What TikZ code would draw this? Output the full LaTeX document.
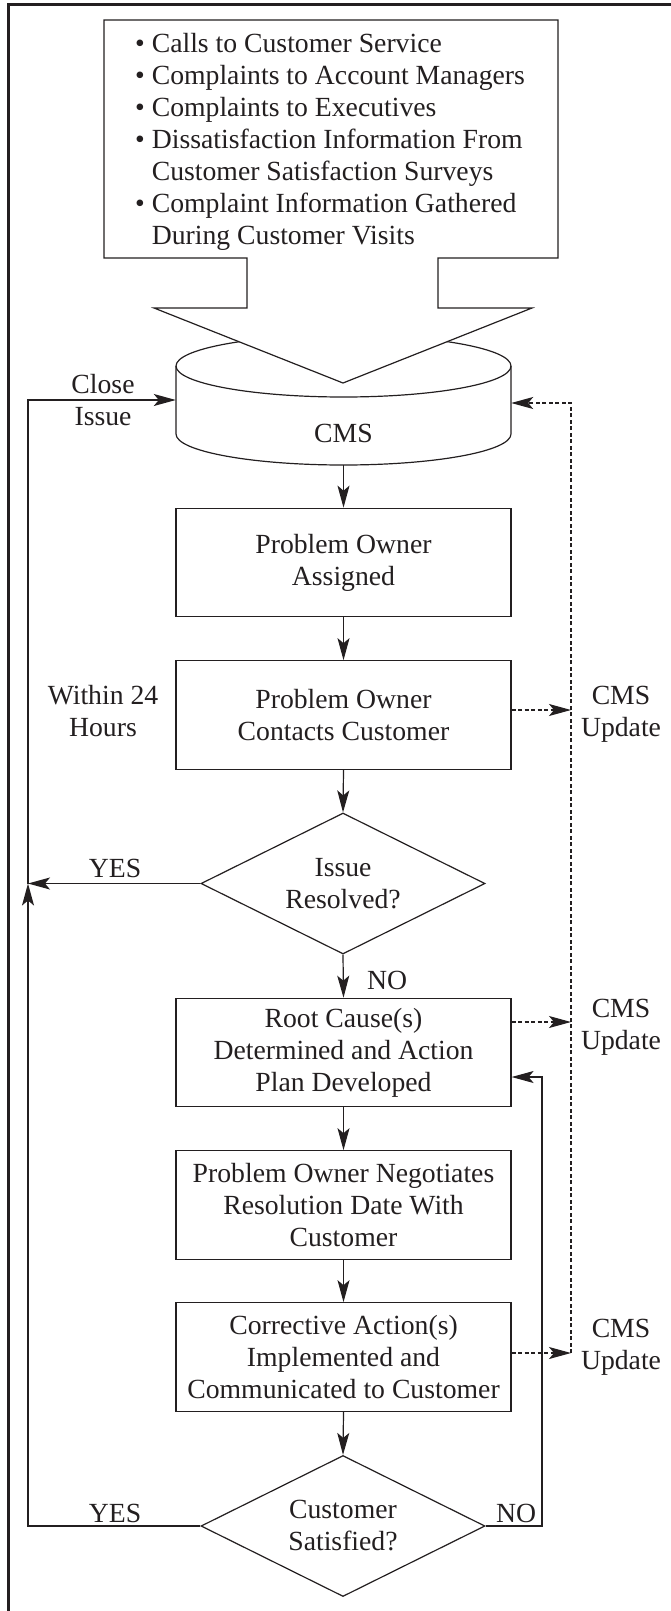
\documentclass[tikz,border=0pt]{standalone}
\usepackage{fontspec}
\setmainfont{Liberation Serif}
\usetikzlibrary{shapes.geometric,arrows.meta,calc}
\definecolor{ink}{RGB}{35,31,32}
\begin{document}
\begin{tikzpicture}[x=1pt,y=-1pt,
  every node/.style={font=\fontsize{27.7}{32}\selectfont, text=ink},
  stepbox/.style={draw=ink, line width=1.2pt, minimum width=335pt, minimum height=108.5pt, inner sep=0pt, align=center},
  decision/.style={diamond, draw=ink, line width=1.2pt, minimum width=284pt, minimum height=141pt, inner sep=0pt, aspect=2, align=center},
  tip/.style={-{Stealth[length=22pt,width=12pt,inset=5pt]}},
  flow/.style={draw=ink, line width=1.2pt, tip},
  update/.style={draw=ink, line width=1.2pt, dash pattern=on 4pt off 2.5pt},
  lbl/.style={align=center, inner sep=0pt},
]
\useasboundingbox (0,0) rectangle (670,1611);

% page frame (left and top edges)
\draw[ink, line width=2.7pt, line join=miter] (8.5,1615) -- (8.5,4.6) -- (675,4.6);

% CMS database cylinder
\draw[ink, line width=1.2pt] (176,366) -- (176,434)
  arc[start angle=180, end angle=360, x radius=167.5pt, y radius=31pt] -- (511,366);
\draw[ink, line width=1.2pt] (343.5,366) ellipse[x radius=167.5pt, y radius=31pt];
\node[minimum width=335pt, minimum height=130pt, inner sep=0pt] (cms) at (343.5,400) {};
\node[lbl] (cmslabel) at (343.5,433) {CMS};

% input sources box with its funnel arrow into the database
\draw[ink, fill=white, line width=1.2pt, line join=miter]
  (104,20) -- (558,20) -- (558,258) -- (438,258) -- (438,308) -- (532,308)
  -- (343,383) -- (154,308) -- (247,308) -- (247,258) -- (104,258) -- cycle;
\node[anchor=north west, align=left, inner sep=0pt] (sources) at (135,33.3)
  {\textbullet\ Calls to Customer Service\\
   \textbullet\ Complaints to Account Managers\\
   \textbullet\ Complaints to Executives\\
   \textbullet\ Dissatisfaction Information From\\
   \hphantom{\textbullet\ }Customer Satisfaction Surveys\\
   \textbullet\ Complaint Information Gathered\\
   \hphantom{\textbullet\ }During Customer Visits};

% process steps
\node[stepbox] (box1) at (343.5,562.5) {Problem Owner\\Assigned};
\node[stepbox] (box2) at (343.5,715) {Problem Owner\\Contacts Customer};
\node[decision] (d1) at (343,883.5) {Issue\\Resolved?};
\node[stepbox] (box3) at (343.5,1052.5) {Root Cause(s)\\Determined and Action\\Plan Developed};
\node[stepbox] (box4) at (343.5,1205) {Problem Owner Negotiates\\Resolution Date With\\Customer};
\node[stepbox] (box5) at (343.5,1357) {Corrective Action(s)\\Implemented and\\Communicated to Customer};
\node[decision] (d2) at (343,1526) {Customer\\Satisfied?};

% side labels
\node[lbl] (closelbl) at (103,400) {Close\\Issue};
\node[lbl] (within) at (103,711) {Within 24\\Hours};
\node[lbl] (upd1) at (621,714) {CMS\\Update};
\node[lbl] (upd2) at (621,1027) {CMS\\Update};
\node[lbl] (upd3) at (621,1347) {CMS\\Update};
\node[lbl] (yes1) at (115,868) {YES};
\node[lbl] (no1) at (387,980) {NO};
\node[lbl] (yes2) at (115,1513) {YES};
\node[lbl] (no2) at (516,1513) {NO};

% main flow
\draw[flow] (cms.south) -- (box1.north);
\draw[flow] (box1.south) -- (box2.north);
\draw[flow] (box2.south) -- (d1.north);
\draw[flow] (d1.south) -- (box3.north);
\draw[flow] (box3.south) -- (box4.north);
\draw[flow] (box4.south) -- (box5.north);
\draw[flow] (box5.south) -- (d2.north);

% YES branches back to closing the issue
\coordinate (jn) at (28,883.5);
\draw[flow] (d1.west) -- (jn);
\draw[flow] (d2.west) -| (jn);
\draw[flow] (jn) |- (cms.west);

% NO branch back to root cause analysis
\coordinate (loopr) at (542,1526);
\draw[flow] (d2.east) -- (loopr) |- ([yshift=-24.5pt]box3.east);

% CMS update bus (dashed)
\coordinate (busTop) at (571,403);
\draw[update, tip] ([yshift=5pt]box2.east) -- ([yshift=5pt]box2.east -| busTop);
\draw[update, tip] ([yshift=30.5pt]box3.east) -- ([yshift=30.5pt]box3.east -| busTop);
\draw[update, tip] ([yshift=4pt]box5.east) -- ([yshift=4pt]box5.east -| busTop);
\draw[update, tip] ([yshift=4pt]box5.east -| busTop) -- (busTop) -- (busTop -| cms.east);
\end{tikzpicture}
\end{document}
